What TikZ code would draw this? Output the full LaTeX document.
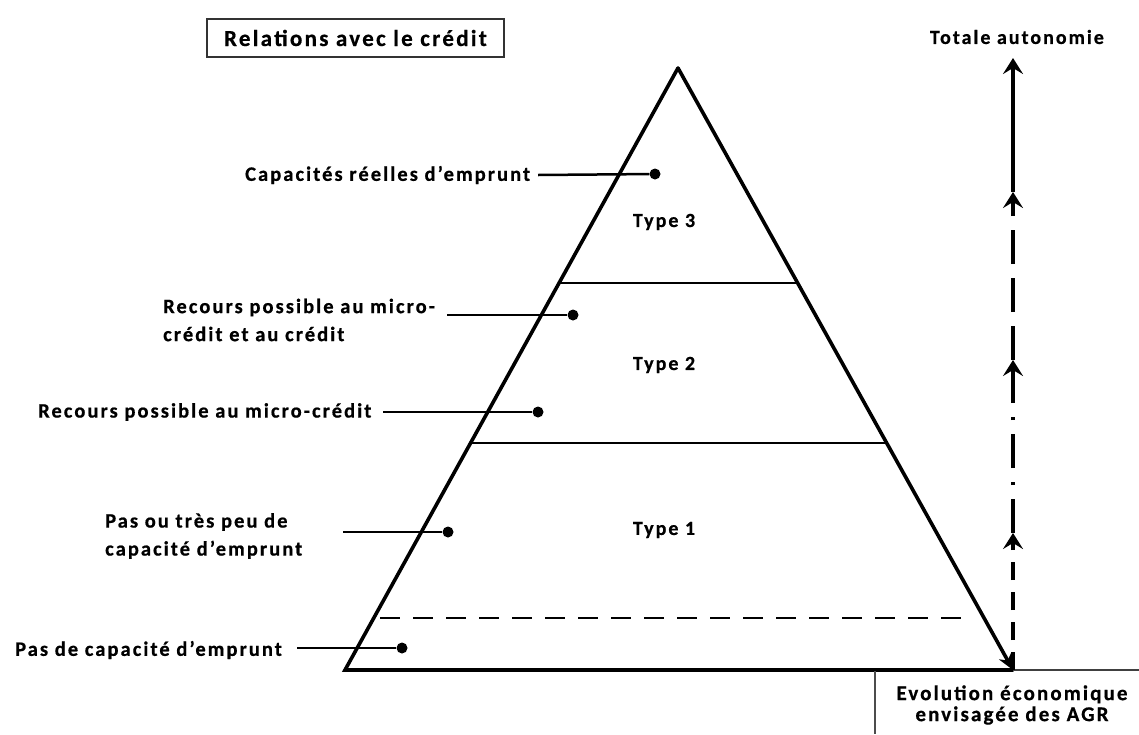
\documentclass[tikz,border=0pt]{standalone}
\usepackage{fontspec}
\setmainfont{Carlito}
\newfontfamily\lblfont{Carlito}[LetterSpace=10, BoldFeatures={FakeBold=0.6}]
\usetikzlibrary{arrows.meta}

\tikzset{
  lbl/.style={font=\lblfont\bfseries\fontsize{20.5}{28}\selectfont, inner sep=0pt, align=left, anchor=west},
  typelbl/.style={font=\lblfont\bfseries\fontsize{20}{24}\selectfont, inner sep=0pt},
  edge/.style={line width=3.6pt, line cap=round, line join=miter},
  band/.style={line width=2.8pt},
  link/.style={line width=2.5pt},
  dot/.style={circle, fill=black, inner sep=0pt, minimum size=11pt},
  tipup/.style={-{Stealth[length=16pt,width=20pt,inset=6pt]}},
  axis/.style={line width=3.2pt, tipup},
}

\begin{document}
\begin{tikzpicture}[x=1pt, y=-1pt]
\useasboundingbox (0,0) rectangle (1139,734);

% pyramid corners
\coordinate (A) at (678,68);
\coordinate (B) at (345,670);
\coordinate (C) at (1013,670);

% pyramid outline, right flank ending in a tip
\draw[edge] (C) -- (B) -- (A);
\draw[edge, -{Stealth[length=16pt,width=14pt,inset=5pt]}] (A) -- (C);

% ground line and its thin continuation
\coordinate (G) at (1139,670);
\draw[line width=1.8pt, black!75] (C) -- (G);
\coordinate (V1) at (875,671);
\coordinate (V2) at (875,734);
\draw[line width=1.4pt, black!70] (V1) -- (V2);

% bands between types
\coordinate (b3l) at (560,283);
\coordinate (b3r) at (797,283);
\draw[band] (b3l) -- (b3r);
\coordinate (b2l) at (471,443);
\coordinate (b2r) at (886,443);
\draw[band] (b2l) -- (b2r);
\coordinate (b1l) at (380,618);
\coordinate (b1r) at (974,618);
\draw[band, dash pattern=on 20pt off 13pt] (b1l) -- (b1r);

% type names
\node[typelbl] (t3) at (664,222) {Type 3};
\node[typelbl] (t2) at (664,365) {Type 2};
\node[typelbl] (t1) at (664,530) {Type 1};

% title
\node[draw=black!80, line width=2pt, inner xsep=17pt, inner ysep=11pt, anchor=west,
      font=\lblfont\bfseries\fontsize{23}{26}\selectfont] (title) at (206,38)
      {Relations avec le crédit};

% credit relations with their pointers
\node[lbl] (l1) at (245,175) {Capacités réelles d’emprunt};
\coordinate (s1) at (538,175);
\node[dot] (d1) at (655,174) {};
\draw[link] (s1) -- (d1);

\node[lbl] (l2) at (163,320) {Recours possible au micro-\\crédit et au crédit};
\coordinate (s2) at (447,315);
\node[dot] (d2) at (573,315) {};
\draw[link] (s2) -- (d2);

\node[lbl] (l3) at (38,412) {Recours possible au micro-crédit};
\coordinate (s3) at (383,412);
\node[dot] (d3) at (538,412) {};
\draw[link] (s3) -- (d3);

\node[lbl] (l4) at (105,536) {Pas ou très peu de\\capacité d’emprunt};
\coordinate (s4) at (343,532);
\node[dot] (d4) at (448,532) {};
\draw[link] (s4) -- (d4);

\node[lbl] (l5) at (15,650) {Pas de capacité d’emprunt};
\coordinate (s5) at (297,648);
\node[dot] (d5) at (402,648) {};
\draw[link] (s5) -- (d5);

% autonomy axis
\coordinate (a0) at (1013,58);
\coordinate (a1) at (1013,192);
\coordinate (a2) at (1013,360);
\coordinate (a3) at (1013,533);
\draw[axis] (a1) -- (a0);
\draw[axis, dash pattern=on 34pt off 14pt] (a2) -- (a1);
\draw[axis, dash pattern=on 34pt off 14pt on 3pt off 14pt] (a3) -- (a2);
\draw[axis, dash pattern=on 18pt off 12pt] (C) -- (a3);

\node[font=\lblfont\bfseries\fontsize{20}{22}\selectfont, inner sep=0pt, anchor=east] (top) at (1104,37) {Totale autonomie};

% horizontal axis caption
\node[font=\lblfont\bfseries\fontsize{21}{21}\selectfont, inner sep=0pt, align=center] (evo) at (1012,705)
  {Evolution économique\\envisagée des AGR};
\end{tikzpicture}
\end{document}
